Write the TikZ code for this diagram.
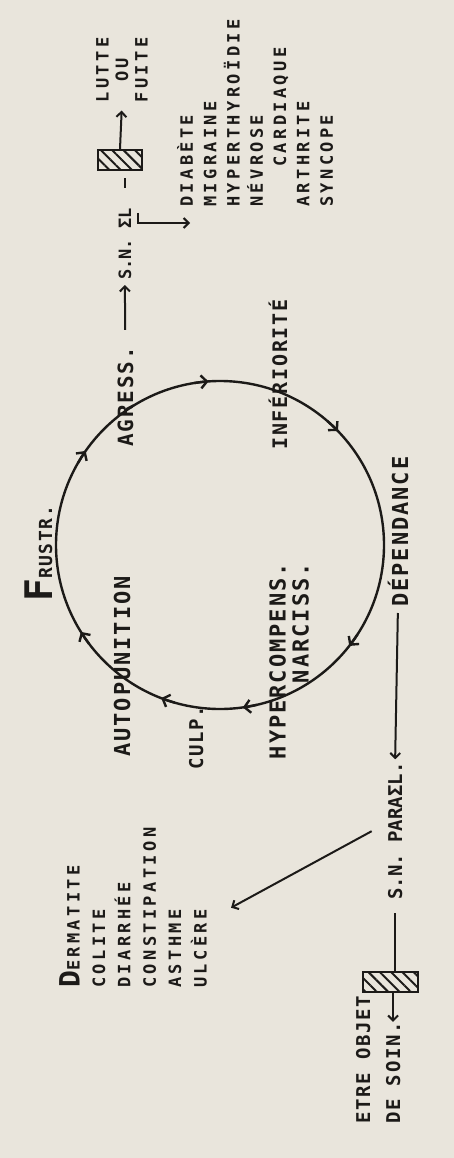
\documentclass[tikz,border=0pt]{standalone}
\usepackage{fontspec}
\usepackage{tikz}
\usetikzlibrary{arrows.meta,patterns.meta,calc}
\definecolor{ink}{RGB}{28,26,24}
\definecolor{paper}{RGB}{233,229,220}
\newfontfamily\handfont[LetterSpace=9]{DejaVu Sans Mono}
\newfontfamily\listfont[LetterSpace=20]{DejaVu Sans Mono}
\newfontfamily\plainhand{DejaVu Sans Mono}
\newcommand{\sz}[1]{\fontsize{#1}{#1}\selectfont}

\begin{document}
\begin{tikzpicture}[x=1pt,y=-1pt,
  lbl/.style={rotate=90,inner sep=0pt,text=ink,anchor=base west},
  arr/.style={-{Straight Barb[length=5pt,width=10pt]},line width=2pt,ink},
  link/.style={line width=2pt,ink},
  hatch/.style={draw=ink,line width=2pt,inner sep=0pt,
    pattern={Lines[angle=-45,distance=8pt,line width=2pt]},pattern color=ink},
  ring/.style={ink,line width=2.4pt}]
  \useasboundingbox (0,0) rectangle (454,1158);
  \fill[paper] (0,0) rectangle (454,1158);
  % Cycle
  \coordinate (cen) at (220,545);
  \draw[ring] (cen) circle[radius=164];
  \foreach \a in {-145,-94,-44,38,82,111,148}
    \draw[ring,-{Straight Barb[length=6pt,width=13pt]}] ([shift={(\a-5:164)}]cen) arc[start angle=\a-5,end angle=\a,radius=164];
  \node[lbl,font=\handfont\bfseries\sz{18}] (frustr) at (52,602) {{\sz{38}F}RUSTR.};
  \node[lbl,font=\handfont\bfseries\sz{21}] (agress) at (133,447) {AGRESS.};
  \node[lbl,font=\handfont\bfseries\sz{20}] (infer) at (287,450) {INFÉRIORITÉ};
  \node[lbl,font=\handfont\bfseries\sz{22}] (dep) at (408,607) {DÉPENDANCE};
  \node[lbl,anchor=north east,align=right,font=\handfont\bfseries\fontsize{22}{23}\selectfont] (hyper) at (269,563) {HYPERCOMPENS.\\NARCISS.};
  \node[lbl,font=\handfont\bfseries\sz{19}] (culp) at (203,770) {CULP.};
  \node[lbl,font=\handfont\bfseries\sz{22}] (autop) at (130,757) {AUTOPUNITION};
  % Sympathetic side
  \node[lbl,font=\plainhand\bfseries\sz{17}] (snsym) at (131,280) {S.N. ΣL};
  \node[hatch,minimum width=44pt,minimum height=20pt] (symbox) at (120,160) {};
  \node[lbl,anchor=center,align=center,font=\listfont\bfseries\fontsize{17}{19.5}\selectfont] (fight) at (122,70) {LUTTE\\OU\\FUITE};
  \node[lbl,anchor=north west,align=left,font=\listfont\bfseries\fontsize{17}{23.3}\selectfont] (diab) at (177,207)
    {DIABÈTE\\MIGRAINE\\HYPERTHYROÏDIE\\NÉVROSE\\\hspace*{40pt}CARDIAQUE\\ARTHRITE\\SYNCOPE};
  \draw[arr,shorten <=17pt,shorten >=5pt] (agress.east) -- (snsym.west);
  \draw[link,shorten <=20pt,shorten >=7pt] (snsym.east) -- (snsym.east |- symbox.south);
  \draw[arr,shorten >=8pt] (symbox.north) -- (fight.west);
  \draw[arr] ([shift={(7,5)}]snsym.south east) |- ([shift={(13,16)}]diab.north west);
  % Parasympathetic side
  \node[lbl,font=\plainhand\bfseries\sz{19}] (snpara) at (402,900) {S.N. PARAΣL.};
  \node[hatch,minimum width=55pt,minimum height=20pt] (parabox) at (390,982) {};
  \node[lbl,font=\handfont\bfseries\sz{19}] (soina) at (370,1124) {ETRE OBJET};
  \node[lbl,font=\handfont\bfseries\sz{19}] (soinb) at (400,1124) {DE SOIN.};
  \node[lbl,anchor=north west,align=left,font=\listfont\bfseries\fontsize{17}{25.4}\selectfont] (derm) at (59,988)
    {{\sz{28}D}ERMATITE\\COLITE\\DIARRHÉE\\CONSTIPATION\\ASTHME\\ULCÈRE};
  \draw[arr,shorten <=6pt,shorten >=3pt] (dep.west) -- (snpara.east);
  \draw[link,shorten <=13pt] (snpara.west) -- (snpara.west |- parabox.north);
  \draw[arr] (soinb.east |- parabox.south) -- (soinb.east);
  \draw[arr] ([xshift=-16pt]snpara.north) -- ([xshift=24pt]derm.south);
\end{tikzpicture}
\end{document}
